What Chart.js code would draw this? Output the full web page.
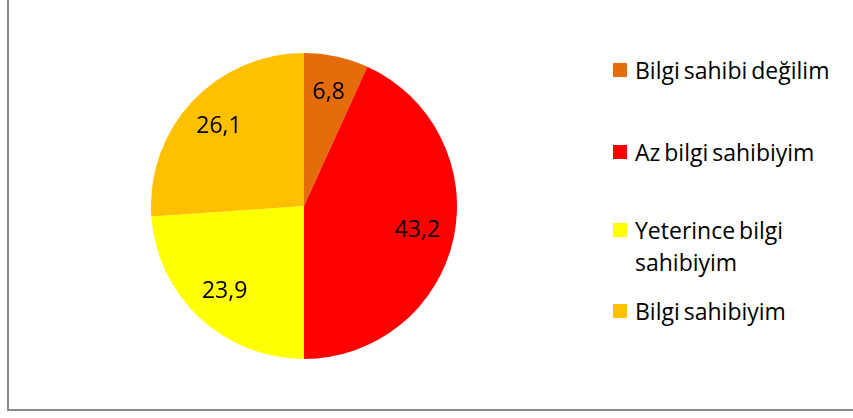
<!DOCTYPE html>
<html>
<head>
<meta charset="utf-8">
<script src="https://cdn.jsdelivr.net/npm/chart.js@4"></script>
<style>
  html, body { margin: 0; padding: 0; background: #fff; }
  body { width: 853px; height: 418px; position: relative; overflow: hidden; font-family: "Open Sans", sans-serif; }
  #frame { position: absolute; left: 7px; top: -4px; width: 860px; height: 415px; border: 2px solid #8a8a8a; box-sizing: border-box; }
  #pieBox { position: absolute; left: 151px; top: 53px; width: 306px; height: 306px; }
  #legend { position: absolute; left: 613px; top: 0; width: 240px; }
  .item { position: absolute; left: 0; display: flex; align-items: flex-start; font-size: 23px; line-height: 32px; color: #000; word-spacing: -2px; }
  .item .sw { width: 14px; height: 14px; margin-top: 9px; margin-right: 8px; flex: none; }
  .item .tx { width: 210px; }
</style>
</head>
<body>
<div id="frame"></div>
<div id="pieBox"><canvas id="pie"></canvas></div>
<div id="legend"></div>
<script>
// Data
const categories = ["Bilgi sahibi değilim", "Az bilgi sahibiyim", "Yeterince bilgi sahibiyim", "Bilgi sahibiyim"];
const values = [6.8, 43.2, 23.9, 26.1];
const colors = ["#E46C0A", "#FF0000", "#FFFF00", "#FFC000"];
const legendTops = [54, 136, 214, 295];

// HTML legend
const legend = document.getElementById("legend");
categories.forEach((name, i) => {
  const div = document.createElement("div");
  div.className = "item";
  div.style.top = legendTops[i] + "px";
  div.innerHTML = `<span class="sw" style="background:${colors[i]}"></span><span class="tx">${name}</span>`;
  legend.appendChild(div);
});

// Value labels inside slices
const sliceLabels = {
  id: "sliceLabels",
  afterDatasetsDraw(chart) {
    const ctx = chart.ctx;
    const meta = chart.getDatasetMeta(0);
    ctx.save();
    ctx.font = "23px 'Open Sans', sans-serif";
    ctx.fillStyle = "#000";
    ctx.textAlign = "center";
    ctx.textBaseline = "middle";
    meta.data.forEach((arc, i) => {
      const mid = (arc.startAngle + arc.endAngle) / 2;
      const r = arc.outerRadius * 0.76;
      const x = arc.x + Math.cos(mid) * r;
      const y = arc.y + Math.sin(mid) * r;
      ctx.fillText(String(values[i]).replace(".", ","), x, y);
    });
    ctx.restore();
  }
};

new Chart(document.getElementById("pie"), {
  type: "pie",
  data: {
    labels: categories,
    datasets: [{
      data: values,
      backgroundColor: colors,
      borderWidth: 0
    }]
  },
  options: {
    responsive: true,
    maintainAspectRatio: false,
    animation: false,
    layout: { padding: 0 },
    plugins: {
      legend: { display: false },
      tooltip: { enabled: false }
    }
  },
  plugins: [sliceLabels]
});
</script>
</body>
</html>
